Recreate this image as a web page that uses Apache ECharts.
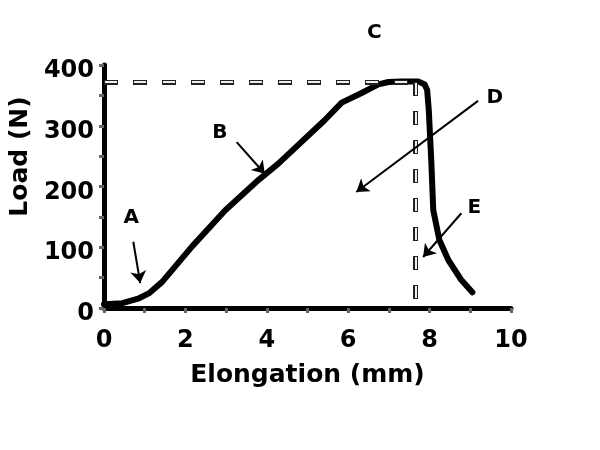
<!DOCTYPE html>
<html>
<head>
<meta charset="utf-8">
<script src="https://cdn.jsdelivr.net/npm/echarts@6/dist/echarts.min.js"></script>
<style>html,body{margin:0;padding:0;background:#fff;}#c{width:600px;height:450px;}</style>
</head>
<body>
<div id="c"></div>
<script>
// Data
const elongation = [0, 0.45, 0.86, 1.10, 1.43, 2.16, 2.98, 3.80, 4.29, 5.42, 5.84, 6.33, 6.74, 6.99, 7.3, 7.72, 7.88, 7.94, 7.98, 8.0, 8.04, 8.09, 8.24, 8.46, 8.78, 9.05];
const load       = [6, 8, 16, 24, 43, 101, 161, 211, 238, 309, 338, 354, 368, 372, 373, 373, 368, 359, 326, 298, 244, 161, 112, 79, 46, 26];
const xTicks = [0, 2, 4, 6, 8, 10];
const yTicks = [0, 100, 200, 300, 400];
const peakLoad = 372;
const breakElong = 7.65;
const annoLabels = ['A', 'B', 'C', 'D', 'E'];
const annoLabelPos = [[0.67, 148], [2.85, 288], [6.64, 453], [9.6, 346], [9.1, 165]];
const annoArrowFrom = [[0.72, 109], [3.26, 273], [6.25, 440], [9.19, 341], [8.78, 156]];
const annoArrowTo = [[0.89, 41], [3.95, 221], [5.22, 378], [6.2, 191], [7.84, 84]];

const FONT = 'DejaVu Sans';
const chart = echarts.init(document.getElementById('c'), null, {renderer: 'canvas'});

const dashSegs = [
  [{coord: [0, peakLoad]}, {coord: [breakElong, peakLoad]}],
  [{coord: [breakElong, peakLoad]}, {coord: [breakElong, 0]}]
];
const arrows = annoArrowFrom.map((f, i) => [{coord: f}, {coord: annoArrowTo[i]}]);

chart.setOption({
  animation: false,
  backgroundColor: '#fff',
  grid: {left: 101, right: 89, top: 65, bottom: 142, containLabel: false},
  xAxis: {
    type: 'value', min: xTicks[0], max: xTicks[xTicks.length - 1], interval: 2,
    name: 'Elongation (mm)', nameLocation: 'middle', nameGap: 55,
    nameTextStyle: {fontFamily: FONT, fontWeight: 'bold', fontSize: 25, color: '#000'},
    axisLine: {show: true, onZero: false, lineStyle: {color: '#000', width: 5}},
    axisTick: {show: true, length: 5, lineStyle: {color: '#666', width: 3}},
    minorTick: {show: true, splitNumber: 2, length: 5, lineStyle: {color: '#666', width: 3}},
    splitLine: {show: false},
    axisLabel: {fontFamily: FONT, fontWeight: 'bold', fontSize: 24, color: '#000', margin: 21}
  },
  yAxis: {
    type: 'value', min: yTicks[0], max: yTicks[yTicks.length - 1], interval: 100,
    name: 'Load (N)', nameLocation: 'middle', nameGap: 68, nameRotate: 90,
    nameTextStyle: {fontFamily: FONT, fontWeight: 'bold', fontSize: 25, color: '#000', padding: [0, 0, 0, 60]},
    axisLine: {show: true, onZero: false, lineStyle: {color: '#000', width: 5}},
    axisTick: {show: true, length: 5, lineStyle: {color: '#666', width: 3}},
    minorTick: {show: true, splitNumber: 2, length: 5, lineStyle: {color: '#666', width: 3}},
    splitLine: {show: false},
    axisLabel: {
      margin: 10,
      formatter: v => '{n|' + v + '}',
      rich: {n: {fontFamily: FONT, fontWeight: 'bold', fontSize: 24, color: '#000', padding: [12, 0, 0, 0]}}
    }
  },
  series: [
    {
      type: 'line', name: 'dashOuter', data: [], silent: true, clip: false,
      markLine: {
        silent: true, symbol: ['none', 'none'], label: {show: false},
        lineStyle: {color: '#222', width: 5, type: [14, 15], cap: 'butt', opacity: 1},
        emphasis: {disabled: true},
        data: dashSegs
      }
    },
    {
      type: 'line', name: 'dashInner', data: [], silent: true, clip: false,
      markLine: {
        silent: true, symbol: ['none', 'none'], label: {show: false},
        lineStyle: {color: '#eeeeee', width: 2, type: [12, 17], dashOffset: -1, cap: 'butt', opacity: 1},
        emphasis: {disabled: true},
        data: dashSegs
      }
    },
    {
      type: 'line', name: 'curve', clip: false, showSymbol: false, symbol: 'none',
      data: elongation.map((x, i) => [x, load[i]]),
      lineStyle: {color: '#000', width: 6, cap: 'round', join: 'round'}
    },
    {
      type: 'scatter', name: 'annotations', clip: false, symbolSize: 0,
      itemStyle: {opacity: 1},
      data: annoLabelPos.map((p, i) => ({value: p, name: annoLabels[i]})),
      label: {show: true, position: [0, 0], align: 'center', verticalAlign: 'middle', formatter: '{b}',
        fontFamily: FONT, fontWeight: 'bold', fontSize: 20, color: '#000', textBorderWidth: 0, opacity: 1},
      markLine: {
        silent: true, symbol: ['none', 'arrow'], symbolSize: 12, label: {show: false},
        lineStyle: {color: '#000', width: 2, type: 'solid', opacity: 1},
        itemStyle: {color: '#000', opacity: 1},
        emphasis: {disabled: true},
        data: arrows
      }
    }
  ]
});
</script>
</body>
</html>
